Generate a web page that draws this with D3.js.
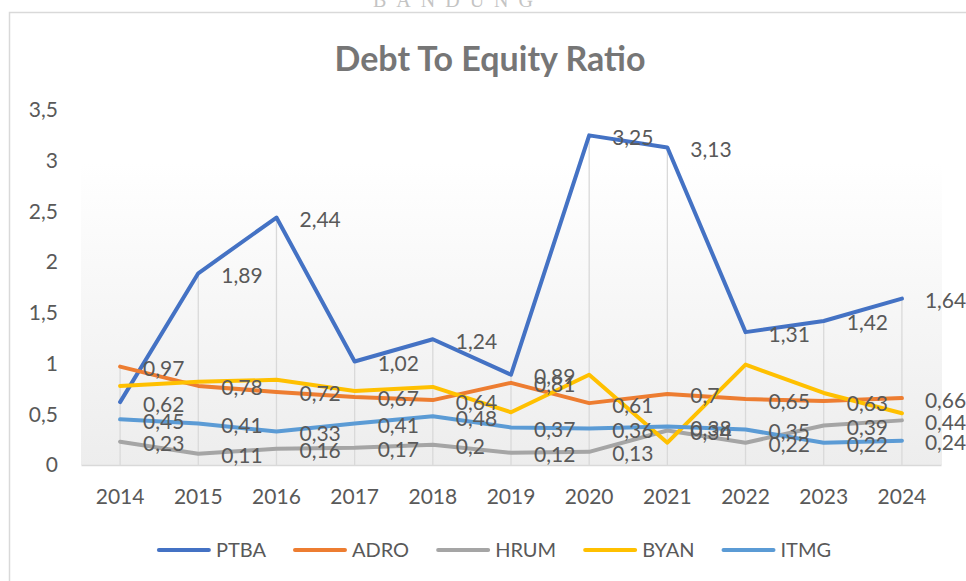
<!DOCTYPE html>
<html>
<head>
<meta charset="utf-8">
<script src="https://cdn.jsdelivr.net/npm/d3@7"></script>
<style>
  body { margin: 0; background: #fff; }
  svg { display: block; }
</style>
</head>
<body>
<svg id="chart" width="966" height="581"></svg>
<script>
// Debt To Equity Ratio, coal companies 2014-2024

const years = ["2014","2015","2016","2017","2018","2019","2020","2021","2022","2023","2024"];
const seriesNames = ["PTBA", "ADRO", "HRUM", "BYAN", "ITMG"];
const ptba = [0.62, 1.89, 2.44, 1.02, 1.24, 0.89, 3.25, 3.13, 1.31, 1.42, 1.64];
const adro = [0.97, 0.78, 0.72, 0.67, 0.64, 0.81, 0.61, 0.7, 0.65, 0.63, 0.66];
const hrum = [0.23, 0.11, 0.16, 0.17, 0.2, 0.12, 0.13, 0.34, 0.22, 0.39, 0.44];
const byan = [0.78, 0.82, 0.84, 0.73, 0.77, 0.52, 0.89, 0.22, 0.99, 0.71, 0.51];
const itmg = [0.45, 0.41, 0.33, 0.41, 0.48, 0.37, 0.36, 0.38, 0.35, 0.22, 0.24];
const yTicks = [0, 0.5, 1, 1.5, 2, 2.5, 3, 3.5];

const COLORS = ["#4472c4", "#ed7d31", "#a5a5a5", "#ffc000", "#5b9bd5"];
const SHOW_LABELS = [true, true, true, false, true];
const TEXT = "#595959";
const FONT = "Lato, 'Open Sans', sans-serif";

const allSeries = [ptba, adro, hrum, byan, itmg];

const plot = {left: 81, right: 942, top: 110, bottom: 465};

const svg = d3.select("#chart");

// chart border (right/bottom edges fall outside the picture)
svg.append("rect")
  .attr("x", 9.5).attr("y", 12.5)
  .attr("width", 1000).attr("height", 600)
  .attr("fill", "none")
  .attr("stroke", "#d9d9d9")
  .attr("stroke-width", 1.5);

// watermark cut at the top edge
svg.append("text")
  .attr("x", 458).attr("y", 7)
  .attr("text-anchor", "middle")
  .attr("font-family", "'Liberation Serif', 'DejaVu Serif', serif")
  .attr("font-size", 20)
  .attr("letter-spacing", 10)
  .attr("fill", "#c4c4c4")
  .text("BANDUNG");

// title
svg.append("text")
  .attr("x", 490).attr("y", 71)
  .attr("text-anchor", "middle")
  .attr("font-family", FONT)
  .attr("font-weight", "bold")
  .attr("font-size", 34)
  .attr("fill", "#767676")
  .text("Debt To Equity Ratio");

const x = d3.scaleBand().domain(years).range([plot.left, plot.right - 1]);
const y = d3.scaleLinear().domain([0, 3.5]).range([plot.bottom, plot.top]);
const cx = d => x(d) + x.bandwidth() / 2;

// plot area gradient
const grad = svg.append("defs").append("linearGradient")
  .attr("id", "plotbg").attr("x1", 0).attr("y1", 0).attr("x2", 0).attr("y2", 1);
grad.append("stop").attr("offset", "0%").attr("stop-color", "#ffffff");
grad.append("stop").attr("offset", "15%").attr("stop-color", "#ffffff");
grad.append("stop").attr("offset", "100%").attr("stop-color", "#ededed");

svg.append("rect")
  .attr("x", plot.left).attr("y", plot.top)
  .attr("width", plot.right - plot.left)
  .attr("height", plot.bottom - plot.top)
  .attr("fill", "url(#plotbg)");

// drop lines from the highest point of each year
svg.append("g").selectAll("line")
  .data(years)
  .join("line")
  .attr("x1", d => cx(d)).attr("x2", d => cx(d))
  .attr("y1", (d, i) => y(d3.max(allSeries, s => s[i])))
  .attr("y2", plot.bottom)
  .attr("stroke", "#d9d9d9")
  .attr("stroke-width", 1.3);

// y axis
const yAxis = svg.append("g")
  .attr("transform", `translate(${plot.left},0)`)
  .call(d3.axisLeft(y).tickValues(yTicks).tickSize(0).tickPadding(23)
    .tickFormat(d => String(d).replace(".", ",")));
yAxis.select(".domain").remove();
yAxis.selectAll("text")
  .attr("font-family", FONT).attr("font-size", 21).attr("fill", TEXT);

// x axis
const xAxis = svg.append("g")
  .attr("transform", `translate(0,${plot.bottom})`)
  .call(d3.axisBottom(x).tickSize(0).tickPadding(24));
xAxis.select(".domain").attr("stroke", "#d9d9d9").attr("stroke-width", 1.3);
xAxis.selectAll("text")
  .attr("font-family", FONT).attr("font-size", 21).attr("fill", TEXT);

// lines
const line = d3.line()
  .x((d, i) => cx(years[i]))
  .y(d => y(d));

svg.append("g").selectAll("path")
  .data(allSeries)
  .join("path")
  .attr("d", d => line(d))
  .attr("fill", "none")
  .attr("stroke", (d, i) => COLORS[i])
  .attr("stroke-width", 4)
  .attr("stroke-linejoin", "round")
  .attr("stroke-linecap", "round");

// data labels, right of each point
allSeries.forEach(function(s, k) {
  if (!SHOW_LABELS[k]) return;
  svg.append("g").selectAll("text")
    .data(s)
    .join("text")
    .attr("x", (d, i) => cx(years[i]) + 23)
    .attr("y", d => y(d))
    .attr("dy", "0.45em")
    .attr("font-family", FONT)
    .attr("font-size", 21)
    .attr("fill", TEXT)
    .text(d => String(d).replace(".", ","));
});

// legend
const legend = svg.append("g");
let lx = 0;
seriesNames.forEach(function(name, i) {
  const item = legend.append("g").attr("transform", `translate(${lx},0)`);
  item.append("line")
    .attr("x1", 2).attr("x2", 52)
    .attr("y1", 0).attr("y2", 0)
    .attr("stroke", COLORS[i])
    .attr("stroke-width", 4)
    .attr("stroke-linecap", "round");
  const t = item.append("text")
    .attr("x", 59).attr("y", 0).attr("dy", "0.36em")
    .attr("font-family", FONT)
    .attr("font-size", 20)
    .attr("fill", TEXT)
    .text(name);
  lx += 59 + t.node().getComputedTextLength() + 27;
});
const legendW = lx - 27;
legend.attr("transform", `translate(${494 - legendW / 2},550)`);
</script>
</body>
</html>
